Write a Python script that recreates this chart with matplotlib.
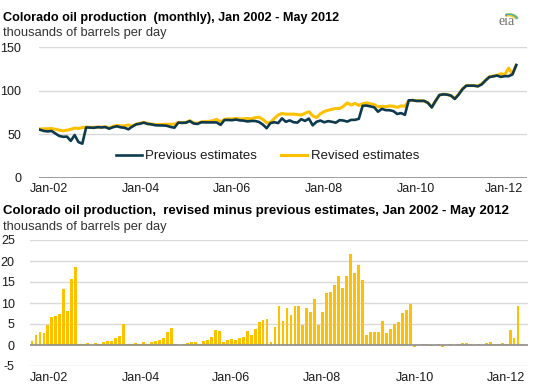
import matplotlib
matplotlib.use('Agg')
import matplotlib.pyplot as plt
from matplotlib.patches import Arc
import numpy as np

plt.rcParams['font.family'] = ['Liberation Sans', 'DejaVu Sans']
plt.rcParams['axes.unicode_minus'] = False

# Monthly Jan 2002 - May 2012, thousands of barrels per day
revised = [
    56.0, 56.0, 56.2, 56.5, 55.5, 54.5, 53.8, 54.5, 55.5, 57.0, 56.5, 57.5,
    58.0, 57.8, 57.8, 58.0, 58.2, 58.4, 57.0, 59.0, 60.0, 59.5, 59.5, 60.5,
    59.0, 61.5, 62.5, 63.5, 62.5, 61.5, 61.0, 61.0, 61.2, 61.3, 61.3, 61.5,
    63.5, 63.0, 63.5, 65.5, 63.0, 62.5, 64.0, 64.5, 64.7, 65.5, 67.0, 64.0,
    67.0, 67.5, 67.5, 68.0, 67.5, 67.5, 68.0, 67.5, 69.0, 69.5, 67.0, 63.0,
    63.5, 68.0, 72.0, 73.8, 73.0, 73.0, 73.0, 72.5, 72.0, 74.0, 75.8, 71.0,
    69.0, 73.5, 76.0, 77.5, 78.5, 79.5, 79.6, 82.0, 86.0, 83.5, 85.4, 83.0,
    85.0, 86.0, 85.0, 84.0, 81.5, 82.0, 81.5, 82.5, 82.0, 80.8, 82.5, 82.0,
    88.5, 89.0, 88.5, 88.5, 88.0, 86.0, 81.0, 88.0, 95.0, 96.0, 95.5, 94.5,
    91.0, 96.0, 102.0, 105.8, 106.0, 105.8, 105.5, 108.0, 112.0, 116.0, 117.0, 117.7,
    119.5, 118.5, 126.0, 119.0, 129.5,
]
previous = [
    55.0, 53.6, 53.1, 53.6, 50.7, 47.8, 46.9, 47.1, 42.2, 48.9, 40.8, 39.0,
    57.7, 57.5, 57.25, 58.0, 57.65, 58.1, 56.2, 58.0, 59.0, 57.8, 57.3, 55.5,
    58.7, 61.2, 61.95, 63.2, 61.7, 61.2, 60.2, 60.0, 59.95, 59.6, 58.2, 57.4,
    63.2, 63.0, 63.2, 64.95, 62.2, 61.7, 63.7, 63.5, 63.45, 63.5, 63.4, 60.6,
    66.2, 66.25, 66.0, 66.75, 65.8, 65.5, 64.6, 65.1, 65.1, 64.0, 61.0, 56.8,
    62.7, 63.7, 62.7, 68.1, 64.2, 65.8, 63.7, 63.2, 67.2, 65.2, 67.9, 60.1,
    64.2, 65.6, 63.6, 64.9, 64.2, 63.1, 66.1, 65.6, 64.4, 66.4, 66.4, 67.6,
    82.6, 82.9, 81.9, 80.9, 75.8, 79.1, 77.6, 77.5, 76.5, 73.2, 74.2, 72.2,
    88.9, 89.0, 88.2, 88.2, 88.3, 86.0, 80.75, 88.4, 95.0, 95.75, 95.5, 94.25,
    90.5, 95.5, 101.75, 105.8, 105.75, 105.8, 105.0, 107.2, 111.75, 115.75, 116.5, 117.45,
    115.9, 116.8, 116.7, 118.75, 129.5,
]
difference = [
    1.0, 2.4, 3.1, 2.9, 4.8, 6.7, 6.9, 7.4, 13.3, 8.1, 15.7, 18.5,
    0.3, 0.3, 0.55, 0.0, 0.55, 0.3, 0.8, 1.0, 1.0, 1.7, 2.2, 5.0,
    0.3, 0.3, 0.55, 0.3, 0.8, 0.3, 0.8, 1.0, 1.25, 1.7, 3.1, 4.1,
    0.3, 0.0, 0.3, 0.55, 0.8, 0.8, 0.3, 1.0, 1.25, 2.0, 3.6, 3.4,
    0.8, 1.25, 1.5, 1.25, 1.7, 2.0, 3.4, 2.4, 3.9, 5.5, 6.0, 6.2,
    0.8, 4.3, 9.3, 5.7, 8.8, 7.2, 9.3, 9.3, 4.8, 8.8, 7.9, 10.9,
    4.8, 7.9, 12.4, 12.6, 14.3, 16.4, 13.5, 16.4, 21.6, 17.1, 19.0, 15.4,
    2.4, 3.1, 3.1, 3.1, 5.7, 2.9, 3.9, 5.0, 5.5, 7.6, 8.3, 9.8,
    -0.4, 0.0, 0.3, 0.3, -0.3, 0.0, 0.25, -0.4, 0.0, 0.25, 0.0, 0.25,
    0.5, 0.5, 0.25, 0.0, 0.25, 0.0, 0.5, 0.8, 0.25, 0.25, 0.5, 0.25,
    3.6, 1.7, 9.3, 0.25, 0.0,
]
year_labels = ['Jan-02', 'Jan-04', 'Jan-06', 'Jan-08', 'Jan-10', 'Jan-12']
top_label_pos = [2.4, 26.3, 50.1, 73.8, 97.8, 120.8]
bottom_label_pos = [4.3, 27.3, 49.9, 72.8, 96.1, 118.9]

months = np.arange(len(revised))

navy = '#0d3a4f'
gold = '#ffc000'
grid_c = '#d9d9d9'
axis_c = '#8c8c8c'
text_c = '#1a1a1a'

W, H = 539, 389
fig = plt.figure(figsize=(W / 100, H / 100), dpi=100)

def box(x0, y0, x1, y1):
    return [x0 / W, 1 - y1 / H, (x1 - x0) / W, (y1 - y0) / H]

# --- top chart ---
ax1 = fig.add_axes(box(39.3, 47.3, 527, 177.5))
ax1.plot(months, revised, color=gold, lw=2.2, label='Revised estimates', zorder=3)
ax1.plot(months, previous, color=navy, lw=1.9, label='Previous estimates', zorder=4)
ax1.set_xlim(-0.2, 126.8)
ax1.set_ylim(0, 150)
ax1.set_yticks([0, 50, 100, 150])
for v in [50, 100, 150]:
    ax1.axhline(v, color=grid_c, lw=1, zorder=1)
ax1.axhline(0, color=axis_c, lw=1.2, zorder=2)
ax1.set_xticks(top_label_pos)
ax1.set_xticklabels(year_labels)

h, l = ax1.get_legend_handles_labels()
ax1.legend([h[1], h[0]], [l[1], l[0]], ncol=2, frameon=False, loc='center',
           bbox_to_anchor=(0.468, 0.165), fontsize=9.5, handlelength=1.95,
           handletextpad=0.25, columnspacing=1.85, borderpad=0, labelcolor=text_c)

# --- bottom chart ---
ax2 = fig.add_axes(box(30, 240, 528, 366))
ax2.bar(months, difference, width=0.72, color=gold, zorder=3)
ax2.set_xlim(-0.5, 124.5)
ax2.set_ylim(-5, 25)
ax2.set_yticks([-5, 0, 5, 10, 15, 20, 25])
for v in [-5, 5, 10, 15, 20, 25]:
    ax2.axhline(v, color=grid_c, lw=1, zorder=1)
ax2.axhline(0, color=axis_c, lw=1.2, zorder=4)
ax2.set_xticks(bottom_label_pos)
ax2.set_xticklabels(year_labels)

for ax in (ax1, ax2):
    for s in ax.spines.values():
        s.set_visible(False)
    ax.tick_params(length=0, labelsize=9, colors=text_c)
    ax.tick_params(axis='y', pad=13 if ax is ax1 else 11)
    ax.tick_params(axis='x', pad=4)

# titles
fig.text(3 / W, 1 - 21 / H, 'Colorado oil production  (monthly), Jan 2002 - May 2012',
         fontsize=9.1, fontweight='bold', color='#000000', va='baseline')
fig.text(3 / W, 1 - 36 / H, 'thousands of barrels per day', fontsize=9.3,
         color='#333333', va='baseline')
fig.text(3 / W, 1 - 214.5 / H,
         'Colorado oil production,  revised minus previous estimates, Jan 2002 - May 2012',
         fontsize=9.5, fontweight='bold', color='#000000', va='baseline')
fig.text(3 / W, 1 - 230 / H, 'thousands of barrels per day', fontsize=9.3,
         color='#333333', va='baseline')

# eia logo
fig.text(507 / W, 1 - 25 / H, 'eia', fontsize=10, family='Liberation Serif',
         color='#6d6d6d', ha='center', va='baseline')
lax = fig.add_axes(box(496, 6, 522, 24))
lax.set_xlim(0, 26)
lax.set_ylim(0, 18)
lax.axis('off')
for r, c in [(9.5, '#8cc63f'), (8.3, '#29a9e0'), (7.1, '#f7c21a')]:
    lax.add_patch(Arc((13, 3), 2 * r, 1.5 * r, theta1=15, theta2=120,
                      color=c, lw=1.1))

fig.savefig('out.png', dpi=100)
